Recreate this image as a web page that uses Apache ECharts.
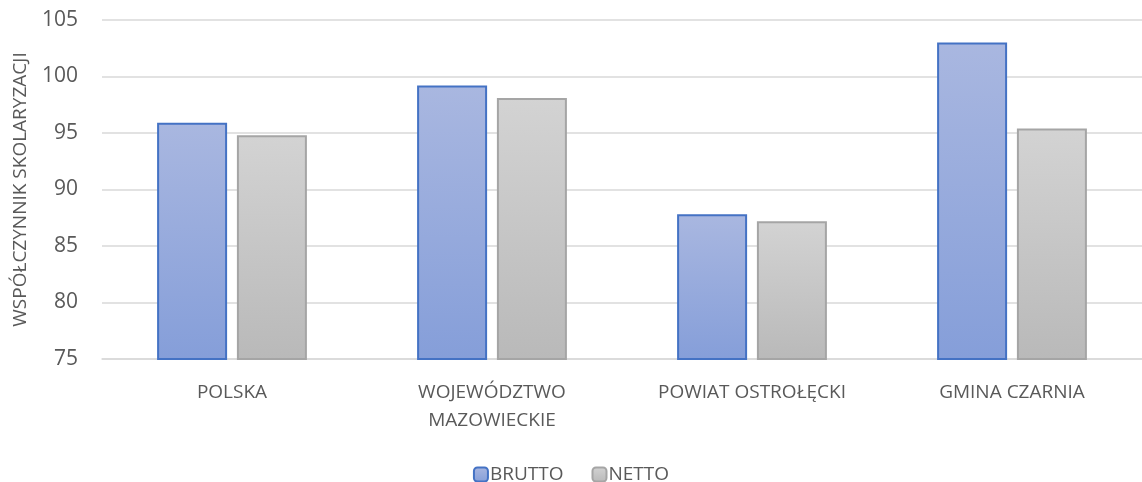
<!DOCTYPE html>
<html>
<head>
<meta charset="utf-8">
<script src="https://cdn.jsdelivr.net/npm/echarts@6/dist/echarts.min.js"></script>
<style>
  html, body { margin: 0; padding: 0; background: #fff; }
  #chart { width: 1142px; height: 482px; }
</style>
</head>
<body>
<div id="chart"></div>
<script>
const categories = ['POLSKA', 'WOJEWÓDZTWO\nMAZOWIECKIE', 'POWIAT OSTROŁĘCKI', 'GMINA CZARNIA'];
const brutto = [95.9, 99.2, 87.8, 103.0];
const netto = [94.8, 98.1, 87.2, 95.4];
const yTicks = [75, 80, 85, 90, 95, 100, 105];

const chart = echarts.init(document.getElementById('chart'));

const grad = (top, bottom) => new echarts.graphic.LinearGradient(0, 0, 0, 1, [
  { offset: 0, color: top },
  { offset: 1, color: bottom }
]);

chart.setOption({
  animation: false,
  textStyle: { fontFamily: '"Open Sans", "Noto Sans", sans-serif' },
  grid: { left: 102, right: 0, top: 20, bottom: 123, outerBoundsMode: 'none' },
  legend: {
    top: 460,
    left: 'center',
    itemWidth: 14,
    itemHeight: 14,
    itemGap: 28,
    textStyle: { color: '#595959', fontSize: 19, padding: [0, 0, 0, -3] },
    data: ['BRUTTO', 'NETTO']
  },
  xAxis: {
    type: 'category',
    data: categories,
    axisTick: { show: false },
    axisLine: { lineStyle: { color: '#d9d9d9', width: 1.5 } },
    axisLabel: { color: '#595959', fontSize: 19, margin: 20, lineHeight: 28, interval: 0 }
  },
  yAxis: {
    type: 'value',
    min: yTicks[0],
    max: yTicks[yTicks.length - 1],
    interval: 5,
    name: 'WSPÓŁCZYNNIK SKOLARYZACJI',
    nameLocation: 'middle',
    nameGap: 72,
    nameRotate: 90,
    nameTextStyle: { color: '#595959', fontSize: 19 },
    axisLine: { show: false },
    axisTick: { show: false },
    axisLabel: { color: '#595959', fontSize: 21, margin: 24 },
    splitLine: { lineStyle: { color: '#d9d9d9', width: 1.5 } }
  },
  series: [
    {
      name: 'BRUTTO',
      type: 'bar',
      data: brutto,
      barWidth: 70,
      barGap: '14%',
      itemStyle: {
        color: grad('#a9b7e0', '#859ed9'),
        borderColor: '#4472c4',
        borderWidth: 2
      }
    },
    {
      name: 'NETTO',
      type: 'bar',
      data: netto,
      barWidth: 70,
      itemStyle: {
        color: grad('#d3d3d3', '#b9b9b9'),
        borderColor: '#a5a5a5',
        borderWidth: 2
      }
    }
  ]
});
</script>
</body>
</html>
